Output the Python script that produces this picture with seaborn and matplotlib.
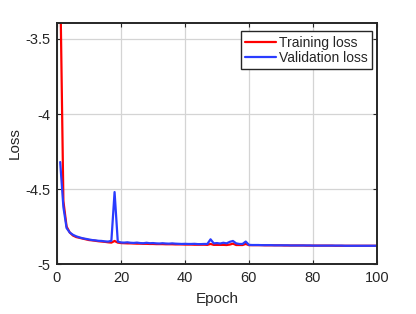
import numpy as np
import pandas as pd
import matplotlib
matplotlib.use("Agg")
import matplotlib.pyplot as plt
import seaborn as sns

# values, one per epoch (1..100)
epochs = list(range(1, 101))
train_loss = [
    -3.10, -4.58, -4.75, -4.79, -4.81, -4.820, -4.825, -4.830, -4.835, -4.840,
    -4.842, -4.845, -4.848, -4.850, -4.852, -4.855, -4.857, -4.846, -4.857, -4.860,
    -4.861, -4.862, -4.862, -4.863, -4.864, -4.864, -4.865, -4.865, -4.866, -4.866,
    -4.867, -4.867, -4.867, -4.868, -4.868, -4.868, -4.869, -4.869, -4.869, -4.870,
    -4.870, -4.870, -4.871, -4.871, -4.871, -4.871, -4.872, -4.866, -4.872, -4.872,
    -4.872, -4.872, -4.873, -4.870, -4.864, -4.873, -4.873, -4.873, -4.866, -4.874,
    -4.874, -4.874, -4.874, -4.874, -4.875, -4.875, -4.875, -4.875, -4.875, -4.875,
    -4.876, -4.876, -4.876, -4.876, -4.876, -4.876, -4.876, -4.877, -4.877, -4.877,
    -4.877, -4.877, -4.877, -4.877, -4.877, -4.877, -4.878, -4.878, -4.878, -4.878,
    -4.878, -4.878, -4.878, -4.878, -4.878, -4.878, -4.878, -4.878, -4.878, -4.878,
]
val_loss = [
    -4.32, -4.62, -4.76, -4.79, -4.805, -4.815, -4.822, -4.828, -4.832, -4.836,
    -4.840, -4.842, -4.845, -4.846, -4.849, -4.850, -4.845, -4.52, -4.850, -4.856,
    -4.857, -4.855, -4.858, -4.859, -4.857, -4.860, -4.861, -4.858, -4.861, -4.860,
    -4.862, -4.863, -4.861, -4.863, -4.864, -4.862, -4.864, -4.865, -4.866, -4.865,
    -4.866, -4.866, -4.865, -4.867, -4.867, -4.866, -4.866, -4.835, -4.862, -4.860,
    -4.863, -4.858, -4.862, -4.852, -4.846, -4.862, -4.866, -4.866, -4.850, -4.872,
    -4.873, -4.873, -4.873, -4.874, -4.874, -4.874, -4.874, -4.875, -4.875, -4.875,
    -4.875, -4.875, -4.876, -4.876, -4.876, -4.876, -4.876, -4.876, -4.876, -4.877,
    -4.877, -4.877, -4.877, -4.877, -4.877, -4.877, -4.877, -4.877, -4.877, -4.878,
    -4.878, -4.878, -4.878, -4.878, -4.878, -4.878, -4.878, -4.878, -4.878, -4.878,
]
x_ticks = [0, 20, 40, 60, 80, 100]
y_ticks = [-5, -4.5, -4, -3.5]
y_tick_labels = ["-5", "-4.5", "-4", "-3.5"]

df = pd.DataFrame({"Epoch": epochs, "Training loss": train_loss, "Validation loss": val_loss})
long = df.melt(id_vars="Epoch", var_name="series", value_name="Loss")

sns.set_theme(style="white")
plt.rcParams["font.family"] = ["Liberation Sans", "DejaVu Sans"]

fig = plt.figure(figsize=(4.16, 3.14), dpi=100)
ax = fig.add_axes([0.137, 0.159, 0.769, 0.768])

sns.lineplot(data=long, x="Epoch", y="Loss", hue="series",
             palette={"Training loss": "#ff0000", "Validation loss": "#2a3cff"},
             linewidth=1.6, ax=ax)

ax.set_xlim(0, 100)
ax.set_ylim(-5, -3.393)
ax.set_xticks(x_ticks)
ax.set_xticklabels([str(t) for t in x_ticks])
ax.set_yticks(y_ticks)
ax.set_yticklabels(y_tick_labels)
ax.grid(True, color="#d4d4d4", linewidth=0.9)
ax.tick_params(direction="in", length=3, width=0.8, colors="#262626",
               labelsize=10.5, top=True, right=True, bottom=True, left=True,
               labelcolor="#262626", pad=5)
for s in ax.spines.values():
    s.set_visible(True)
    s.set_color("#262626")
    s.set_linewidth(1.4)
ax.set_xlabel("Epoch", fontsize=11, color="#262626", labelpad=5)
ax.set_ylabel("Loss", fontsize=11, color="#262626", labelpad=2)

leg = ax.legend(loc="upper right", bbox_to_anchor=(0.985, 0.965), fontsize=10,
                frameon=True, fancybox=False, borderpad=0.3, handlelength=2.2,
                handletextpad=0.25, labelspacing=0.12, borderaxespad=0.0)
leg.set_title(None)
leg.get_frame().set_edgecolor("#262626")
leg.get_frame().set_linewidth(1.0)
leg.get_frame().set_alpha(1)

fig.savefig("out.png", dpi=100)
